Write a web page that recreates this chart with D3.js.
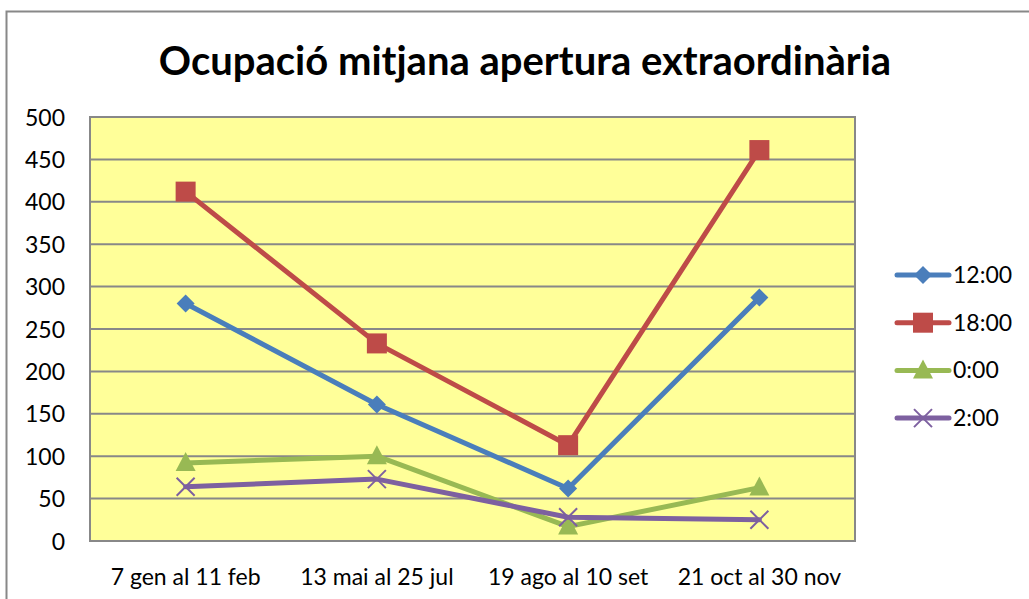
<!DOCTYPE html>
<html>
<head>
<meta charset="utf-8">
<script src="https://cdn.jsdelivr.net/npm/d3@7"></script>
<style>
  body { margin: 0; background: #fff; }
  text { font-family: Lato, "Open Sans", sans-serif; fill: #000; }
</style>
</head>
<body>
<div id="chart"></div>
<script>
var categories = ["7 gen al 11 feb", "13 mai al 25 jul", "19 ago al 10 set", "21 oct al 30 nov"];
var seriesNames = ["12:00", "18:00", "0:00", "2:00"];
var values1200 = [280, 161, 62, 287];
var values1800 = [412, 233, 113, 461];
var values0000 = [92, 100, 17, 63];
var values0200 = [64, 73, 28, 25];
var yTicks = [0, 50, 100, 150, 200, 250, 300, 350, 400, 450, 500];

var colors = ["#4A7EBB", "#BE4B48", "#98B954", "#7D60A0"];
var markers = ["diamond", "square", "triangle", "x"];
var series = [values1200, values1800, values0000, values0200].map(function(v, i){
    return { name: seriesNames[i], values: v, color: colors[i], marker: markers[i] };
});

var W = 1029, H = 599;
var plot = { left: 90, right: 855, top: 117, bottom: 541 };

var svg = d3.select("#chart")
    .append("svg")
        .attr("width", W)
        .attr("height", H);

// outer chart frame
svg.append("rect")
    .attr("x", 6.5).attr("y", 11.5)
    .attr("width", W + 10).attr("height", H + 10)
    .attr("fill", "#fff")
    .attr("stroke", "#888").attr("stroke-width", 2);

svg.append("text")
    .attr("x", 525)
    .attr("y", 75)
    .attr("text-anchor", "middle")
    .attr("font-size", "40px")
    .attr("font-weight", "bold")
    .text("Ocupació mitjana apertura extraordinària");

var x = d3.scaleBand()
    .domain(categories)
    .range([plot.left, plot.right]);

var y = d3.scaleLinear()
    .domain([0, 500])
    .range([plot.bottom, plot.top]);

svg.append("rect")
    .attr("x", plot.left).attr("y", plot.top)
    .attr("width", plot.right - plot.left)
    .attr("height", plot.bottom - plot.top)
    .attr("fill", "#FFFF99")
    .attr("stroke", "#888").attr("stroke-width", 2);

// gridlines
svg.append("g")
    .selectAll("line")
    .data(yTicks)
    .enter()
    .append("line")
        .attr("x1", plot.left).attr("x2", plot.right)
        .attr("y1", function(d){ return y(d); })
        .attr("y2", function(d){ return y(d); })
        .attr("stroke", "#888").attr("stroke-width", 2);

var yAxisCall = d3.axisLeft(y).tickValues(yTicks).tickSize(0).tickPadding(0);
var yAxis = svg.append("g")
    .attr("transform", "translate(65,0)")
    .call(yAxisCall);
yAxis.select(".domain").remove();
yAxis.selectAll("text")
    .attr("font-size", "23px")
    .attr("dy", "0.35em")
    .style("font-family", "Lato, sans-serif");

var xAxisCall = d3.axisBottom(x).tickSize(0).tickPadding(0);
var xAxis = svg.append("g")
    .attr("transform", "translate(0," + plot.bottom + ")")
    .call(xAxisCall);
xAxis.select(".domain").remove();
xAxis.selectAll("text")
    .attr("font-size", "23px")
    .attr("y", 44)
    .attr("dy", 0)
    .style("font-family", "Lato, sans-serif");

var cx = function(i){ return x(categories[i]) + x.bandwidth() / 2; };

var line = d3.line()
    .x(function(d, i){ return cx(i); })
    .y(function(d){ return y(d); });

function drawMarker(g, type, color, px, py) {
    if (type === "diamond") {
        g.append("path")
            .attr("d", "M" + px + "," + (py - 9) + "L" + (px + 9) + "," + py + "L" + px + "," + (py + 9) + "L" + (px - 9) + "," + py + "Z")
            .attr("fill", color);
    } else if (type === "square") {
        g.append("rect")
            .attr("x", px - 10).attr("y", py - 10)
            .attr("width", 20).attr("height", 20)
            .attr("fill", color);
    } else if (type === "triangle") {
        g.append("path")
            .attr("d", "M" + px + "," + (py - 11) + "L" + (px + 10) + "," + (py + 8) + "L" + (px - 10) + "," + (py + 8) + "Z")
            .attr("fill", color);
    } else {
        g.append("path")
            .attr("d", "M" + (px - 9) + "," + (py - 9) + "L" + (px + 9) + "," + (py + 9) + "M" + (px + 9) + "," + (py - 9) + "L" + (px - 9) + "," + (py + 9))
            .attr("stroke", color).attr("stroke-width", 2).attr("fill", "none");
    }
}

series.forEach(function(s){
    var g = svg.append("g");
    g.append("path")
        .datum(s.values)
        .attr("d", line)
        .attr("fill", "none")
        .attr("stroke", s.color)
        .attr("stroke-width", 5)
        .attr("stroke-linejoin", "round")
        .attr("stroke-linecap", "round");
    s.values.forEach(function(v, i){
        drawMarker(g, s.marker, s.color, cx(i), y(v));
    });
});

// legend
var legend = svg.append("g");
series.forEach(function(s, i){
    var ly = 275 + i * 47.7;
    legend.append("line")
        .attr("x1", 897).attr("x2", 949)
        .attr("y1", ly).attr("y2", ly)
        .attr("stroke", s.color).attr("stroke-width", 5)
        .attr("stroke-linecap", "round");
    drawMarker(legend, s.marker, s.color, 923, ly);
    legend.append("text")
        .attr("x", 953)
        .attr("y", ly)
        .attr("dy", "0.35em")
        .attr("font-size", "23px")
        .text(s.name);
});
</script>
</body>
</html>
